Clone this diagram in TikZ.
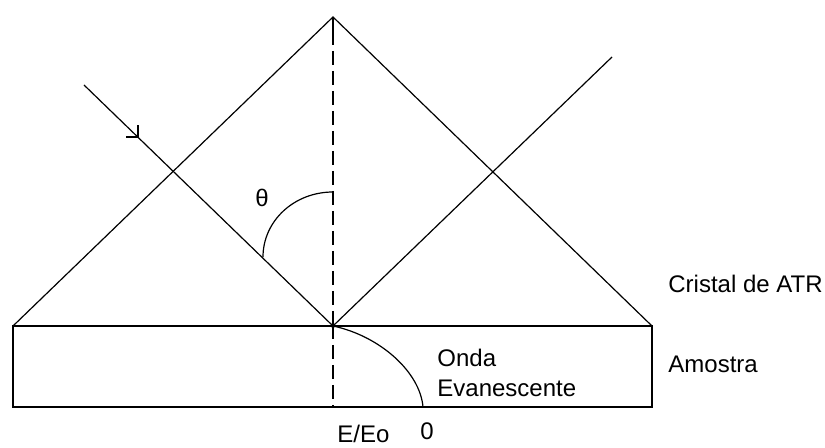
\documentclass[tikz,border=0pt]{standalone}
\usepackage{fontspec}
\setmainfont{Liberation Sans}
\begin{document}
\begin{tikzpicture}[x=0.5pt,y=-0.5pt,
  thin line/.style={line width=0.6pt},
  box line/.style={line width=1pt},
  label text/.style={inner sep=0pt,anchor=base west,font=\fontsize{12}{14}\selectfont}]
\useasboundingbox (0,0) rectangle (825,448);
% coordinates
\coordinate (apex) at (333,17);
\coordinate (bl) at (13,326);
\coordinate (br) at (652,326);
\coordinate (bbr) at (652,407);
\coordinate (refl) at (333,326);
\coordinate (dashend) at (333,407);
\coordinate (inc) at (84,85);
\coordinate (arr) at (138,137);
\coordinate (barbL) at (126,137);
\coordinate (barbU) at (138,125);
\coordinate (out) at (612,57);
\coordinate (arcA) at (263,257);
\coordinate (arcB) at (333,192);
\coordinate (evEnd) at (423,407);
% crystal
\draw[thin line] (bl) -- (apex) -- (br);
% sample box
\draw[box line] (bl) rectangle (bbr);
% normal
\draw[line width=1pt,dash pattern=on 14pt off 3pt on 7pt off 3pt on 7pt off 3pt on 7pt off 3pt on 7pt off 3pt on 7pt off 3pt on 7pt off 3pt on 7pt off 3pt on 7pt off 3pt on 7pt off 3pt on 7pt off 3pt on 7pt off 3pt on 7pt off 3pt on 7pt off 3pt] (apex) -- (dashend);
% rays
\draw[thin line] (inc) -- (refl);
\draw[line width=0.8pt,line join=miter] (barbL) -- (arr) -- (barbU);
\draw[thin line] (refl) -- (out);
\fill (refl) circle (2);
% angle arc
\draw[thin line] (arcA) .. controls (263,221) and (294,192) .. (arcB);
% evanescent wave
\draw[thin line] (refl) .. controls (380,336) and (420,372) .. (evEnd);
% labels
\node[label text,anchor=center] (theta) at (262,198) {θ};
\node[label text] (cristal) at (668,293) {Cristal de ATR};
\node[label text] (amostra) at (668,373) {Amostra};
\node[label text] (onda) at (437,367) {Onda};
\node[label text] (evan) at (437,397) {Evanescente};
\node[label text] (eeo) at (337,443) {E/Eo};
\node[label text] (zero) at (420,440) {0};
\end{tikzpicture}
\end{document}
